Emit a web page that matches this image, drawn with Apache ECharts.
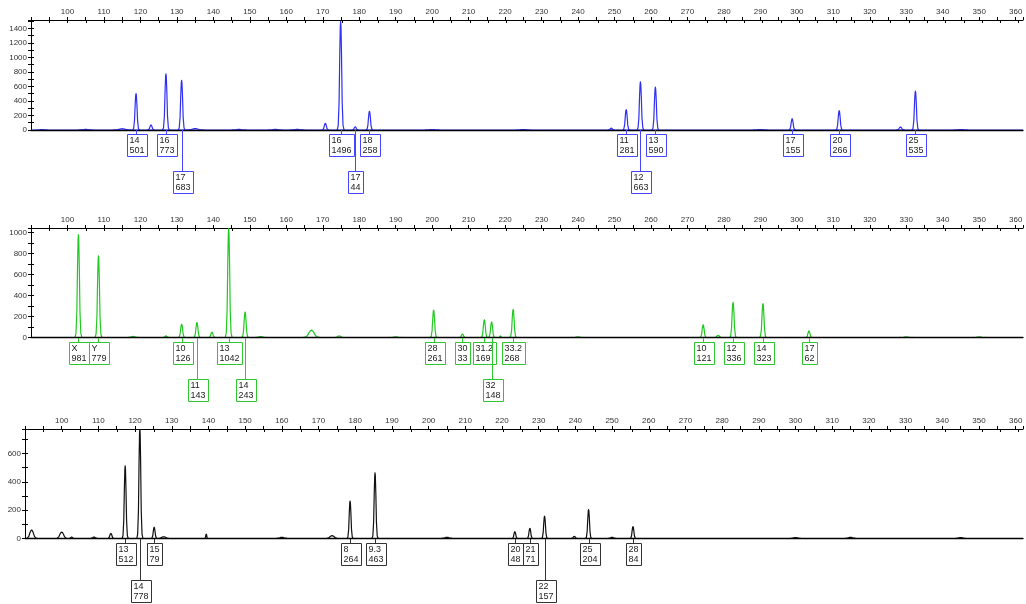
<!DOCTYPE html>
<html><head><meta charset="utf-8">
<script src="https://cdn.jsdelivr.net/npm/echarts@6/dist/echarts.min.js"></script>
<style>html,body{margin:0;padding:0;background:#fff}#c{width:1026px;height:604px}</style>
</head><body><div id="c"></div>
<script>
// ---- data (size in bp, allele, peak height, label row) ----
const xLabels = [100,110,120,130,140,150,160,170,180,190,200,210,220,230,240,250,260,270,280,290,300,310,320,330,340,350,360];
const yLabelsBlue = [0,200,400,600,800,1000,1200,1400];
const yLabelsGreen = [0,200,400,600,800,1000];
const yLabelsBlack = [0,200,400,600];

const bluePeaks = [
  [118.8,'14',501,1],[127.0,'16',773,1],[131.3,'17',683,2],[174.9,'16',1496,1],
  [178.9,'17',44,2],[182.8,'18',258,1],[253.2,'11',281,1],[257.1,'12',663,2],
  [261.2,'13',590,1],[298.7,'17',155,1],[311.6,'20',266,1],[332.5,'25',535,1]
];
// unlabelled peaks: [size, height, half-width]
const blueMinor = [
  [93,6,1.5],[105,10,2],[115,18,2.5],[122.9,70,1],[135,20,2.5],[147,8,2],[157,8,2],
  [163,10,2],[170.7,90,1],[200,6,2],[225,6,2],[249.1,25,1],[290,6,2],[328.4,40,1.2],[345,6,2]
];
const greenPeaks = [
  [103.0,'X',981,1],[108.5,'Y',779,1],[131.3,'10',126,1],[135.5,'11',143,2],
  [144.2,'13',1042,1],[148.7,'14',243,2],[200.4,'28',261,1],[208.3,'30',33,1],
  [214.3,'31.2',169,1],[216.3,'32',148,2],[222.2,'33.2',268,1],[274.3,'10',121,1],
  [282.5,'12',336,1],[290.7,'14',323,1],[303.3,'17',62,1]
];
const greenMinor = [
  [118,10,2],[127,15,1],[139.6,50,1],[153,8,2],[166.9,70,2.5],[174.5,15,1.5],
  [190,6,2],[218.7,15,0.5],[240,6,2],[278.4,20,1.2],[330,6,2],[350,6,2]
];
const blackPeaks = [
  [117.3,'13',512,1],[121.3,'14',778,2],[125.2,'15',79,1],[178.6,'8',264,1],
  [185.4,'9.3',463,1],[223.5,'20',48,1],[227.6,'21',71,1],[231.6,'22',157,2],
  [243.6,'25',204,1],[255.7,'28',84,1]
];
const blackMinor = [
  [91.8,60,1.7],[100,45,1.8],[102.7,10,0.8],[108.8,10,1.2],[113.4,35,1],[127.8,12,2],
  [139.4,30,0.5],[160,8,2],[173.7,20,2],[205,8,2],[239.7,15,1],[250,8,1.5],[300,6,2],[315,8,2],[345,6,2]
];

const X_MIN = 90, X_MAX = 362;
const panels = [
  {peaks: bluePeaks, minor: blueMinor, color: '#2f2ff5', box: '#4545ff', ymax: 1515, ylabels: yLabelsBlue, hw: 0.95,
   grid: {left: 31, top: 20, width: 995, height: 110}},
  {peaks: greenPeaks, minor: greenMinor, color: '#22c922', box: '#2ec82e', ymax: 1044, ylabels: yLabelsGreen, hw: 0.95,
   grid: {left: 31, top: 228, width: 995, height: 109.5}},
  {peaks: blackPeaks, minor: blackMinor, color: '#111', box: '#333', ymax: 772, ylabels: yLabelsBlack, hw: 0.85,
   grid: {left: 25, top: 429, width: 1001, height: 109.5}}
];

// peak outline template (relative offset, relative height)
const shape = [[-1,0],[-0.7,0.04],[-0.45,0.25],[-0.25,0.7],[-0.1,0.95],[0,1],[0.1,0.95],[0.25,0.7],[0.45,0.25],[0.7,0.04],[1,0]];

const FONT = '9px "Liberation Sans", Arial, sans-serif';
const ctx = document.createElement('canvas').getContext('2d');
ctx.font = FONT;
const measure = s => ctx.measureText(s).width;

const grids = [], xAxes = [], yAxes = [], series = [];
panels.forEach(p => grids.push(Object.assign({containLabel: false}, p.grid)));
panels.forEach(p => grids.push(Object.assign({containLabel: false}, p.grid)));
const axisCommon = {type: 'value', min: X_MIN, max: X_MAX, interval: 5};
panels.forEach((p, i) => {
  xAxes.push(Object.assign({}, axisCommon, {
    gridIndex: i, position: 'top',
    axisLine: {onZero: false, lineStyle: {color: '#000', width: 1}},
    axisTick: {show: true, length: 3, lineStyle: {color: '#000'}},
    axisLabel: {show: true, margin: 4, fontSize: 8, color: '#333', fontFamily: 'Liberation Sans, Arial',
      formatter: v => xLabels.includes(v) ? String(v) : ''},
    splitLine: {show: false}
  }));
  xAxes.push(Object.assign({}, axisCommon, {
    gridIndex: i, position: 'bottom', z: 10,
    axisLine: {onZero: false, lineStyle: {color: '#000', width: 1.3}},
    axisTick: {show: false}, axisLabel: {show: false}, splitLine: {show: false}
  }));
  yAxes.push({
    type: 'value', gridIndex: i, min: 0, max: p.ymax, interval: 100, position: 'left',
    axisLine: {show: true, onZero: false, lineStyle: {color: '#000', width: 1}},
    axisTick: {show: true, length: 3, lineStyle: {color: '#000'}},
    axisLabel: {show: true, margin: 4, fontSize: 8, color: '#333', fontFamily: 'Liberation Sans, Arial',
      formatter: v => p.ylabels.includes(v) ? String(v) : ''},
    splitLine: {show: false}
  });
});
panels.forEach((p, i) => {
  xAxes.push(Object.assign({}, axisCommon, {
    gridIndex: 3 + i, position: 'top',
    axisLine: {show: false, onZero: false},
    axisTick: {show: true, inside: true, length: 3, lineStyle: {color: '#000'}},
    axisLabel: {show: false}, splitLine: {show: false}
  }));
  yAxes.push({
    type: 'value', gridIndex: 3 + i, min: 0, max: p.ymax, interval: 100, position: 'left',
    axisLine: {show: false, onZero: false},
    axisTick: {show: true, inside: true, length: 3, lineStyle: {color: '#000'}},
    axisLabel: {show: false}, splitLine: {show: false}
  });
});

panels.forEach((p, i) => {
  const list = p.peaks.map(pk => [pk[0], pk[2], p.hw]).concat(p.minor.map(m => [m[0], m[1], m[2]]));
  // each peak drawn as its own outline through the axis scales
  series.push({
    type: 'custom', xAxisIndex: 2 * i, yAxisIndex: i, clip: true, silent: true, z: 3,
    data: list,
    renderItem: (params, api) => {
      const c = api.value(0), h = api.value(1), w = api.value(2);
      const pts = shape.map(([dx, f]) => api.coord([c + dx * w, h * f]));
      return {type: 'polyline', shape: {points: pts},
        style: {stroke: p.color, lineWidth: 1.2, fill: null, lineJoin: 'round'}};
    }
  });
  // baseline of the trace
  series.push({
    type: 'line', xAxisIndex: 2 * i, yAxisIndex: i, data: [[X_MIN, 0], [X_MAX, 0]],
    showSymbol: false, symbol: 'none', silent: true, lineStyle: {color: p.color, width: 1.2}, z: 2
  });
  series.push({
    type: 'custom', xAxisIndex: 2 * i, yAxisIndex: i, clip: false, silent: true, z: 12,
    data: p.peaks.map(pk => [pk[0], 0]),
    renderItem: (params, api) => {
      const pk = p.peaks[params.dataIndex];
      const pt = api.coord([pk[0], 0]);
      const x = Math.round(pt[0]) + 0.5;
      const y0 = Math.round(pt[1]);
      const top = y0 + (pk[3] === 1 ? 4.5 : 41.5);
      const w = Math.round(Math.max(measure(pk[1]), measure(String(pk[2]))) + 5);
      const left = Math.round(x - w / 2) + 0.5;
      return {type: 'group', children: [
        {type: 'line', shape: {x1: x, y1: y0, x2: x, y2: top}, style: {stroke: p.box, lineWidth: 1}},
        {type: 'rect', shape: {x: left, y: top, width: w, height: 22}, style: {fill: '#fff', stroke: p.box, lineWidth: 1}},
        {type: 'text', style: {text: pk[1] + '\n' + pk[2], x: left + 2, y: top + 1.5, font: FONT,
          fill: '#222', lineHeight: 10, verticalAlign: 'top', align: 'left'}}
      ]};
    }
  });
});

const chart = echarts.init(document.getElementById('c'), null, {renderer: 'canvas'});
chart.setOption({
  animation: false,
  backgroundColor: '#fff',
  grid: grids, xAxis: xAxes, yAxis: yAxes, series: series
});
</script></body></html>
